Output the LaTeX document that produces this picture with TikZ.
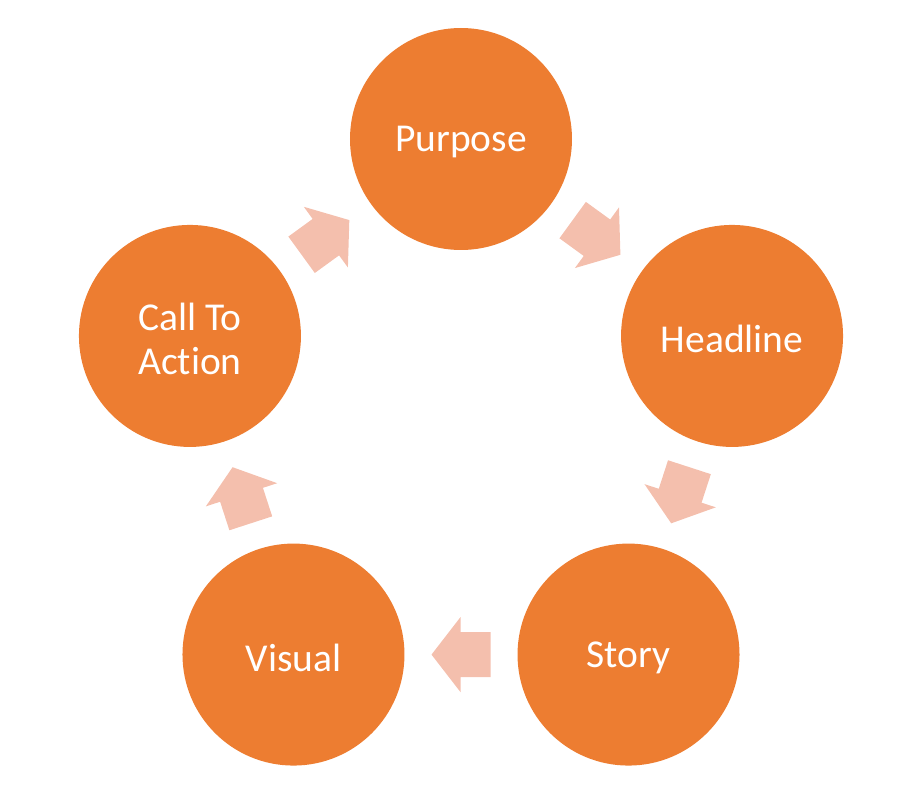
\documentclass[tikz,border=0pt]{standalone}
\usepackage{fontspec}
\setmainfont{Carlito}[Ligatures=NoCommon]
\definecolor{circc}{HTML}{ED7D31}
\definecolor{arrc}{HTML}{F4BFAD}
\tikzset{
  stepcircle/.style={circle, fill=circc, draw=none, minimum size=222pt, inner sep=0pt},
  steplabel/.style={text=white, align=center, inner sep=0pt, font=\fontsize{39.5}{44}\selectfont},
  blockarrow/.style={fill=arrc, draw=none}
}
\begin{document}
\begin{tikzpicture}[x=1pt,y=1pt]
\useasboundingbox (-461,-366) rectangle (451,424);
\node[stepcircle] (purpose) at (90:285) {};
\node[stepcircle] (headline) at (18:285) {};
\node[stepcircle] (story) at (-54:285) {};
\node[stepcircle] (visual) at (-126:285) {};
\node[stepcircle] (cta) at (162:285) {};
\node[steplabel] (purposet) at ([yshift=-3]purpose.center) {Purpose};
\node[steplabel] (headlinet) at ([yshift=-3]headline.center) {Headline};
\node[steplabel] (storyt) at ([yshift=-3]story.center) {Story};
\node[steplabel] (visualt) at ([yshift=-3]visual.center) {Visual};
\node[steplabel] (ctat) at ([yshift=-3]cta.center) {Call To\\Action};
\foreach \a in {54,-18,-90,-162,126}{
  \path[blockarrow, shift={(\a:230.6)}, rotate=\a-90]
    (-29.5,-22.5) -- (0.5,-22.5) -- (0.5,-37.5) -- (29.5,0) -- (0.5,37.5) -- (0.5,22.5) -- (-29.5,22.5) -- cycle;
}
\end{tikzpicture}
\end{document}
